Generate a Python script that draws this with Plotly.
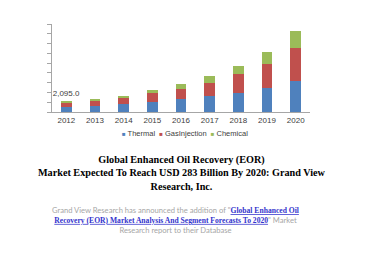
import plotly.graph_objects as go

years = ["2012", "2013", "2014", "2015", "2016", "2017", "2018", "2019", "2020"]
thermal = [1050, 1280, 1690, 2100, 2640, 3240, 3960, 4960, 6440]
gas_injection = [830, 1080, 1220, 1690, 2100, 2770, 3790, 4860, 6570]
chemical = [215, 270, 400, 610, 950, 1290, 1680, 2490, 3500]
top_label = ["2,095.0", "", "", "", "", "", "", "", ""]

series_names = ["Thermal", "GasInjection", "Chemical"]
colors = ["#4F81BD", "#C0504D", "#9BBB59"]

fig = go.Figure()
for name, vals, col in zip(series_names, [thermal, gas_injection, chemical], colors):
    fig.add_trace(go.Bar(x=years, y=vals, name=name, marker_color=col,
                         marker_line_width=0, showlegend=False))
fig.data[-1].text = top_label
fig.data[-1].textposition = "outside"
fig.data[-1].constraintext = "none"
fig.data[-1].cliponaxis = False
fig.data[-1].textfont = dict(size=8, color="#404040", family="Liberation Sans")

L, R, T, B = 52, 58, 24, 163.5
fig.update_layout(
    width=368, height=276,
    margin=dict(l=L, r=R, t=T, b=B),
    paper_bgcolor="white", plot_bgcolor="white",
    barmode="stack", bargap=0.62,
    font=dict(family="Liberation Sans", size=8, color="#404040"),
    xaxis=dict(showline=True, linecolor="#a6a6a6", linewidth=1, ticks="",
               tickfont=dict(size=8, color="#404040"), showgrid=False),
    yaxis=dict(range=[0, 18000], dtick=2000, showticklabels=False,
               showline=True, linecolor="#a6a6a6", ticks="outside",
               ticklen=4, tickcolor="#a6a6a6", showgrid=False, zeroline=False),
)

plot_top, plot_bot = T, 276 - B
def py(ypx):
    return (plot_bot - ypx) / (plot_bot - plot_top)
def px(xpx):
    return (xpx - L) / (368 - L - R)

def note(text, xpx, ypx, font):
    fig.add_annotation(x=px(xpx), y=py(ypx), xref="paper", yref="paper", text=text,
                       showarrow=False, align="center", xanchor="center",
                       yanchor="middle", font=font)

legend_txt = "&nbsp;&nbsp;".join(
    f"<span style='color:{c};font-size:6px'>■</span> {n}" for n, c in zip(series_names, colors))
note(legend_txt, 185, 134, dict(size=7.5, color="#404040", family="Liberation Sans"))

title = ("<b>Global Enhanced Oil Recovery (EOR)<br>"
         "Market Expected To Reach USD 283 Billion By 2020: Grand View<br>"
         "Research, Inc.</b>")
note(title, 182, 173.5, dict(family="Liberation Serif", size=10.2, color="#000000"))

gray = "#a6a6a6"
link = "#3333cc"
lk = lambda s: f"<span style='color:{link};font-family:Liberation Serif;font-weight:bold'><u>{s}</u></span>"
para = (f"Grand View Research has announced the addition of \"{lk('Global Enhanced Oil')}<br>"
        f"{lk('Recovery (EOR) Market Analysis And Segment Forecasts To 2020')}\" Market<br>"
        "Research report to their Database")
note(para, 175, 221, dict(family="Lato", size=7.6, color=gray))

fig.write_html("out.html")
